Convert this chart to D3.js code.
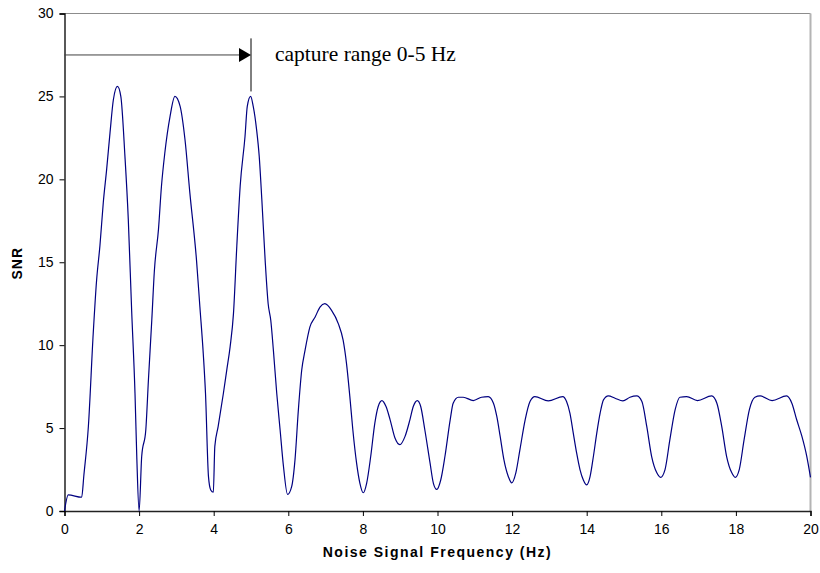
<!DOCTYPE html>
<html>
<head>
<meta charset="utf-8">
<script src="https://cdn.jsdelivr.net/npm/d3@7"></script>
<style>
  body { margin: 0; background: #fff; }
  svg { display: block; }
  .tick text { font-family: "Liberation Sans", Arial, sans-serif; font-size: 14px; fill: #000; }
</style>
</head>
<body>
<div id="chart"></div>
<script>
// noise frequency (Hz) and SNR
const freq = [0, 0.1, 0.46, 0.52, 0.64, 0.77, 0.86, 0.95, 1.04, 1.13, 1.22, 1.31, 1.42, 1.51, 1.62, 1.71, 1.8, 1.89, 1.94, 2.0,
  2.07, 2.18, 2.25, 2.34, 2.41, 2.52, 2.6, 2.69, 2.83, 2.96, 3.1, 3.23, 3.36, 3.54, 3.63, 3.72, 3.78, 3.86, 3.92, 3.99,
  4.03, 4.12, 4.26, 4.35, 4.44, 4.53, 4.62, 4.71, 4.84, 4.9, 4.99, 5.06, 5.15, 5.22, 5.29, 5.38, 5.46, 5.53, 5.6, 5.69,
  5.78, 5.87, 5.98, 6.09, 6.18, 6.27, 6.36, 6.45, 6.58, 6.72, 6.85, 6.98, 7.16, 7.34, 7.47, 7.56, 7.65, 7.73, 7.83, 7.92,
  8.01, 8.1, 8.21, 8.32, 8.41, 8.51, 8.62, 8.73, 8.86, 8.99, 9.13, 9.26, 9.35, 9.46, 9.55, 9.66, 9.8, 9.89, 9.98,
  10.09, 10.2, 10.34, 10.42, 10.56, 10.69, 10.96, 11.18, 11.36, 11.5, 11.59, 11.68, 11.78, 11.9, 11.99,
  12.1, 12.21, 12.35, 12.48, 12.61, 12.97, 13.36, 13.46, 13.55, 13.64, 13.73, 13.82, 13.91, 14.0,
  14.09, 14.18, 14.27, 14.36, 14.45, 14.58, 14.76, 14.97, 15.16, 15.34, 15.48, 15.61, 15.74, 15.88, 15.98,
  16.1, 16.23, 16.37, 16.5, 16.68, 16.97, 17.35, 17.49, 17.62, 17.75, 17.89, 17.98,
  18.09, 18.22, 18.36, 18.51, 18.65, 18.97, 19.36, 19.5, 19.63, 19.77, 19.9, 20.0];
const snr = [0, 0.97, 0.83, 2.17, 5.1, 10.7, 13.9, 16.0, 18.6, 20.6, 22.8, 24.8, 25.6, 25.0, 21.4, 17.6, 12.1, 7.1, 3.1, 0,
  3.3, 4.9, 7.9, 11.5, 14.5, 17.0, 19.6, 21.6, 23.8, 25.0, 24.4, 22.4, 19.2, 15.1, 12.3, 9.5, 7.1, 2.07, 1.27, 1.13,
  3.9, 5.1, 7.1, 8.5, 9.9, 11.9, 16.0, 19.6, 22.6, 24.4, 25.0, 24.4, 23.0, 21.4, 18.8, 15.1, 12.5, 11.5, 9.7, 7.1,
  4.9, 2.7, 1.0, 1.47, 3.1, 6.1, 8.5, 9.7, 11.1, 11.7, 12.3, 12.5, 12.1, 11.3, 10.3, 8.9, 6.9, 4.9, 2.9, 1.67,
  1.1, 1.67, 3.3, 5.3, 6.3, 6.66, 6.3, 5.5, 4.4, 4.0, 4.5, 5.5, 6.3, 6.66, 6.3, 4.9, 2.9, 1.67, 1.3,
  1.9, 3.3, 5.5, 6.5, 6.86, 6.86, 6.66, 6.86, 6.9, 6.5, 5.7, 4.5, 3.1, 2.07, 1.7,
  2.3, 3.7, 5.5, 6.6, 6.9, 6.64, 6.9, 6.6, 5.9, 4.7, 3.5, 2.5, 1.87, 1.57,
  2.07, 3.3, 4.7, 5.9, 6.7, 6.94, 6.8, 6.64, 6.86, 6.94, 6.6, 5.1, 3.3, 2.3, 2.03,
  2.5, 4.3, 6.1, 6.86, 6.9, 6.66, 6.94, 6.5, 5.1, 3.3, 2.3, 2.03,
  2.5, 4.3, 6.1, 6.86, 6.94, 6.66, 6.94, 6.5, 5.5, 4.5, 3.3, 2.03];

const xTicks = [0, 2, 4, 6, 8, 10, 12, 14, 16, 18, 20];
const yTicks = [0, 5, 10, 15, 20, 25, 30];

// capture range annotation: arrow from 0 to 5 Hz
const captureFrom = 0;
const captureTo = 5;
const arrowLevel = 27.5;
const markerTop = 28.5;
const markerBottom = 25.3;
const captureLabel = 'capture range 0-5 Hz';

const W = 820, H = 573;
const margin = { top: 13.5, right: 9.5, bottom: 62, left: 64.5 };

const x = d3.scaleLinear().domain([0, 20]).range([margin.left, W - margin.right]);
const y = d3.scaleLinear().domain([0, 30]).range([H - margin.bottom, margin.top]);

const svg = d3.select('#chart').append('svg')
    .attr('width', W)
    .attr('height', H);

// frame: top and right edges are grey
svg.append('line')
    .attr('x1', x(0)).attr('x2', x(20))
    .attr('y1', y(30)).attr('y2', y(30))
    .attr('stroke', '#8c8c8c').attr('stroke-width', 1);
svg.append('line')
    .attr('x1', x(20)).attr('x2', x(20))
    .attr('y1', y(30)).attr('y2', y(0))
    .attr('stroke', '#b4b4b4').attr('stroke-width', 2);

const xAxis = svg.append('g')
    .attr('transform', `translate(0,${y(0)})`)
    .call(d3.axisBottom(x).tickValues(xTicks).tickSize(5).tickPadding(8).tickFormat(d3.format('d')));
xAxis.select('.domain').attr('stroke', '#222').attr('stroke-width', 1.5);

const yAxis = svg.append('g')
    .attr('transform', `translate(${x(0)},0)`)
    .call(d3.axisLeft(y).tickValues(yTicks).tickSize(5).tickPadding(6).tickFormat(d3.format('d')));
yAxis.select('.domain').attr('stroke', '#000').attr('stroke-width', 1.3);

const line = d3.line()
    .x((d, i) => x(freq[i]))
    .y(d => y(d))
    .curve(d3.curveMonotoneX);

svg.append('path')
    .datum(snr)
    .attr('fill', 'none')
    .attr('stroke', '#000080')
    .attr('stroke-width', 1.2)
    .attr('d', line);

// annotation
const ann = svg.append('g');
ann.append('line')
    .attr('x1', x(captureFrom)).attr('x2', x(captureTo) - 10)
    .attr('y1', y(arrowLevel)).attr('y2', y(arrowLevel))
    .attr('stroke', '#404040').attr('stroke-width', 1);
ann.append('path')
    .attr('d', `M${x(captureTo)},${y(arrowLevel)} L${x(captureTo) - 12},${y(arrowLevel) - 7} L${x(captureTo) - 12},${y(arrowLevel) + 7} Z`)
    .attr('fill', '#000');
ann.append('line')
    .attr('x1', x(captureTo)).attr('x2', x(captureTo))
    .attr('y1', y(markerTop)).attr('y2', y(markerBottom))
    .attr('stroke', '#000').attr('stroke-width', 1);
ann.append('text')
    .attr('x', x(captureTo) + 24)
    .attr('y', y(arrowLevel) + 6)
    .attr('font-family', '"Liberation Serif", "Times New Roman", serif')
    .attr('font-size', 21.5)
    .text(captureLabel);

svg.append('text')
    .attr('x', (x(0) + x(20)) / 2)
    .attr('y', 557)
    .attr('text-anchor', 'middle')
    .attr('font-family', '"Liberation Sans", Arial, sans-serif')
    .attr('font-weight', 'bold')
    .attr('font-size', 14)
    .attr('letter-spacing', 1.5)
    .text('Noise Signal Frequency (Hz)');

svg.append('text')
    .attr('transform', `translate(22,${y(15) + 1}) rotate(-90)`)
    .attr('text-anchor', 'middle')
    .attr('font-family', '"Liberation Sans", Arial, sans-serif')
    .attr('font-weight', 'bold')
    .attr('font-size', 14)
    .attr('letter-spacing', 1)
    .text('SNR');
</script>
</body>
</html>
